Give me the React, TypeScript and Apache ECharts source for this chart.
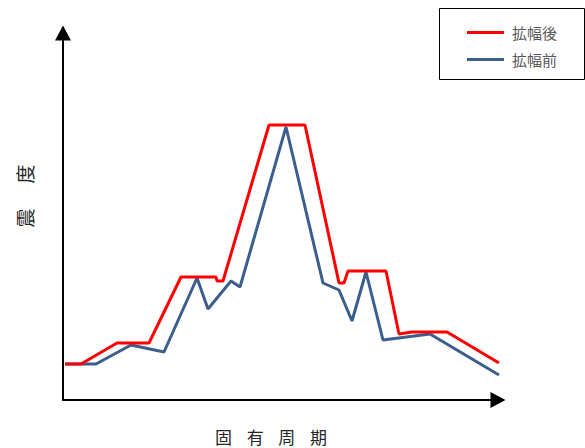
import React, { useEffect, useRef } from "react";
import * as echarts from "echarts";

// Natural period (arbitrary units along the axis) and seismic intensity (arbitrary units)
const afterPeriod = [2, 18, 54, 86, 118, 153, 154, 160, 206, 242, 276, 281, 285, 323, 336, 349, 384, 436];
const afterValue = [36, 36, 57, 57, 123, 123, 119, 119, 275, 275, 117, 117, 129, 129, 66, 68, 68, 37];

const beforePeriod = [2, 33, 68, 101, 134, 145, 168, 177, 223, 260, 276, 289, 303, 320, 367, 436];
const beforeValue = [36, 36, 55, 48, 122, 91, 119, 113, 273, 117, 110, 79, 128, 60, 66, 25];

const seriesNames = ["拡幅後", "拡幅前"];
const xAxisChars = ["固", "有", "周", "期"];
const yAxisChars = ["震", "度"];

const pairs = (xs: number[], ys: number[]) => xs.map((x, i) => [x, ys[i]]);
const spaced = (chars: string[]) => chars.map((c) => `{c|${c}}`).join("{s| }");

export default function App() {
  const ref = useRef<HTMLDivElement>(null);
  useEffect(() => {
    if (!ref.current) return;
    const chart = echarts.init(ref.current, null, { renderer: "svg" });
    const font = '"Noto Sans CJK JP", sans-serif';
    const axisCommon = {
      type: "value" as const,
      axisTick: { show: false },
      axisLabel: { show: false },
      splitLine: { show: false },
      axisLine: {
        show: true,
        lineStyle: { color: "#000", width: 2 },
        symbol: ["none", "triangle"],
        symbolSize: [16, 15],
      },
    };
    chart.setOption({
      animation: false,
      backgroundColor: "#fff",
      grid: { left: 63, top: 33, right: 87, bottom: 48 },
      xAxis: { ...axisCommon, min: 0, max: 435 },
      yAxis: { ...axisCommon, min: 0, max: 367 },
      legend: {
        data: [seriesNames[0], seriesNames[1]],
        orient: "vertical",
        left: 467,
        top: 25,
        padding: 0,
        itemGap: 12,
        itemWidth: 37,
        itemHeight: 3,
        icon: "rect",
        textStyle: { fontFamily: font, fontSize: 15, color: "#595959", padding: [0, 0, 0, 3] },
      },
      graphic: [
        {
          type: "rect",
          shape: { x: 439.5, y: 8.5, width: 145, height: 71 },
          style: { fill: "none", stroke: "#000", lineWidth: 1 },
          z: 10,
        },
        {
          type: "text",
          x: 271,
          y: 436,
          style: {
            text: spaced(xAxisChars),
            fill: "#262626",
            textAlign: "center",
            textVerticalAlign: "middle",
            align: "center",
            verticalAlign: "middle",
            rich: {
              c: { fontFamily: font, fontSize: 17, fill: "#262626", color: "#262626" },
              s: { fontFamily: font, fontSize: 17, width: 14.7 },
            },
          },
        },
        {
          type: "text",
          x: 24,
          y: 196,
          rotation: Math.PI / 2,
          style: {
            text: spaced(yAxisChars),
            fill: "#262626",
            textAlign: "center",
            textVerticalAlign: "middle",
            align: "center",
            verticalAlign: "middle",
            rich: {
              c: { fontFamily: font, fontSize: 19, fill: "#262626", color: "#262626" },
              s: { fontFamily: font, fontSize: 19, width: 25 },
            },
          },
        },
      ],
      series: [
        {
          name: seriesNames[1],
          type: "line",
          data: pairs(beforePeriod, beforeValue),
          symbol: "none",
          clip: false,
          lineStyle: { color: "#3B5E8C", width: 3 },
          itemStyle: { color: "#3B5E8C" },
        },
        {
          name: seriesNames[0],
          type: "line",
          data: pairs(afterPeriod, afterValue),
          symbol: "none",
          clip: false,
          lineStyle: { color: "#FF0000", width: 3 },
          itemStyle: { color: "#FF0000" },
        },
      ],
    });
    return () => chart.dispose();
  }, []);
  return (
    <div
      ref={ref}
      style={{ position: "fixed", left: 0, top: 0, width: 585, height: 448 }}
    />
  );
}
